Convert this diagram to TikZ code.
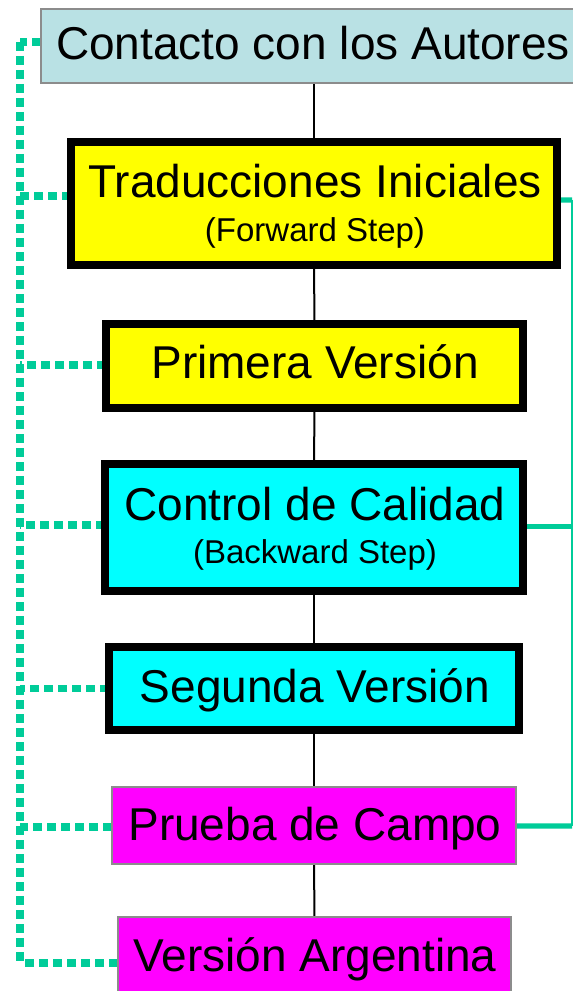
\documentclass[tikz,border=0pt]{standalone}
\usepackage{fontspec}
\setmainfont{Liberation Sans}
\usetikzlibrary{backgrounds}
\definecolor{linkgreen}{RGB}{0,204,153}
\definecolor{paleblue}{RGB}{185,225,228}
\definecolor{boxgray}{RGB}{140,140,140}
\definecolor{boxyellow}{RGB}{255,255,0}
\definecolor{boxcyan}{RGB}{0,255,255}
\definecolor{boxmagenta}{RGB}{255,0,255}
\begin{document}
\begin{tikzpicture}[x=0.75pt,y=-0.75pt,
  box/.style={rectangle,inner sep=0pt,outer sep=0pt},
  heavybox/.style={box,draw=black,line width=6pt},
  lightbox/.style={box,draw=boxgray,line width=1.5pt},
  maintext/.style={inner sep=0pt,anchor=base,font=\fontsize{34.5}{36}\selectfont},
  subtext/.style={inner sep=0pt,anchor=base,font=\fontsize{24.75}{26}\selectfont},
  centreline/.style={draw=black,line width=1.5pt},
  dotline/.style={draw=linkgreen,line width=5.5pt,dash pattern=on 6.75pt off 3.75pt},
  feedback/.style={draw=linkgreen,line width=4pt},
  feedbackrail/.style={draw=linkgreen,line width=1.6pt}]
\useasboundingbox (0,0) rectangle (573,991);

% boxes of the flow
\node[lightbox,fill=paleblue,minimum width=409.5pt,minimum height=55.5pt] (contact) at (314,46) {};
\node[maintext] (contactT) at (313,60) {Contacto con los Autores};

\node[heavybox,fill=boxyellow,minimum width=364.5pt,minimum height=92.25pt] (trad) at (314,203.5) {};
\node[maintext] (tradT) at (315,198) {Traducciones Iniciales};
\node[subtext] (tradS) at (315,242) {(Forward Step)};

\node[heavybox,fill=boxyellow,minimum width=312.75pt,minimum height=63pt] (prim) at (314.5,366) {};
\node[maintext] (primT) at (315,378) {Primera Versión};

\node[heavybox,fill=boxcyan,minimum width=313.5pt,minimum height=95.25pt] (ctrl) at (314,527.5) {};
\node[maintext] (ctrlT) at (315,520) {Control de Calidad};
\node[subtext] (ctrlS) at (315,563) {(Backward Step)};

\node[heavybox,fill=boxcyan,minimum width=307.5pt,minimum height=62.25pt] (seg) at (314,688.5) {};
\node[maintext] (segT) at (315,702) {Segunda Versión};

\node[lightbox,fill=boxmagenta,minimum width=303pt,minimum height=57.75pt] (campo) at (314,825.5) {};
\node[maintext] (campoT) at (315,840) {Prueba de Campo};

\node[lightbox,fill=boxmagenta,minimum width=294.75pt,minimum height=58.5pt] (argent) at (314.5,956) {};
\node[maintext] (argentT) at (315,971) {Versión Argentina};

% rails of the dotted and solid connectors
\coordinate (lefttop) at (20,42);
\coordinate (leftbot) at (20,963);
\coordinate (righttop) at (572,200);
\coordinate (rightbot) at (572,826);

\begin{pgfonlayer}{background}
  % central flow line
  \draw[centreline] (contact.south) -- (trad.north);
  \draw[centreline] (trad.south) -- (prim.north);
  \draw[centreline] (prim.south) -- (ctrl.north);
  \draw[centreline] (ctrl.south) -- (seg.north);
  \draw[centreline] (seg.south) -- (campo.north);
  \draw[centreline] (campo.south) -- (argent.north);

  % dotted link to the authors
  \draw[dotline] (lefttop) -- (leftbot);
  \draw[dotline] ([yshift=3pt]contact.west) -- ([yshift=3pt]contact.west -| lefttop);
  \draw[dotline] ([yshift=5.6pt]trad.west) -- ([yshift=5.6pt]trad.west -| lefttop);
  \draw[dotline] ([yshift=0.75pt]prim.west) -- ([yshift=0.75pt]prim.west -| lefttop);
  \draw[dotline] ([yshift=1.9pt]ctrl.west) -- ([yshift=1.9pt]ctrl.west -| lefttop);
  \draw[dotline] (seg.west) -- (seg.west -| lefttop);
  \draw[dotline] ([yshift=-1pt]campo.west) -- ([yshift=-1pt]campo.west -| lefttop);
  \draw[dotline] ([yshift=-5.25pt]argent.west) -- (leftbot);

  % solid feedback connector on the right
  \draw[feedbackrail] (righttop) -- (rightbot);
  \draw[feedback] ([yshift=2.6pt]trad.east) -- (righttop);
  \draw[feedback] ([yshift=1pt]ctrl.east) -- ([yshift=1pt]ctrl.east -| righttop);
  \draw[feedback] ([yshift=-0.4pt]campo.east) -- (rightbot);
\end{pgfonlayer}
\end{tikzpicture}
\end{document}
